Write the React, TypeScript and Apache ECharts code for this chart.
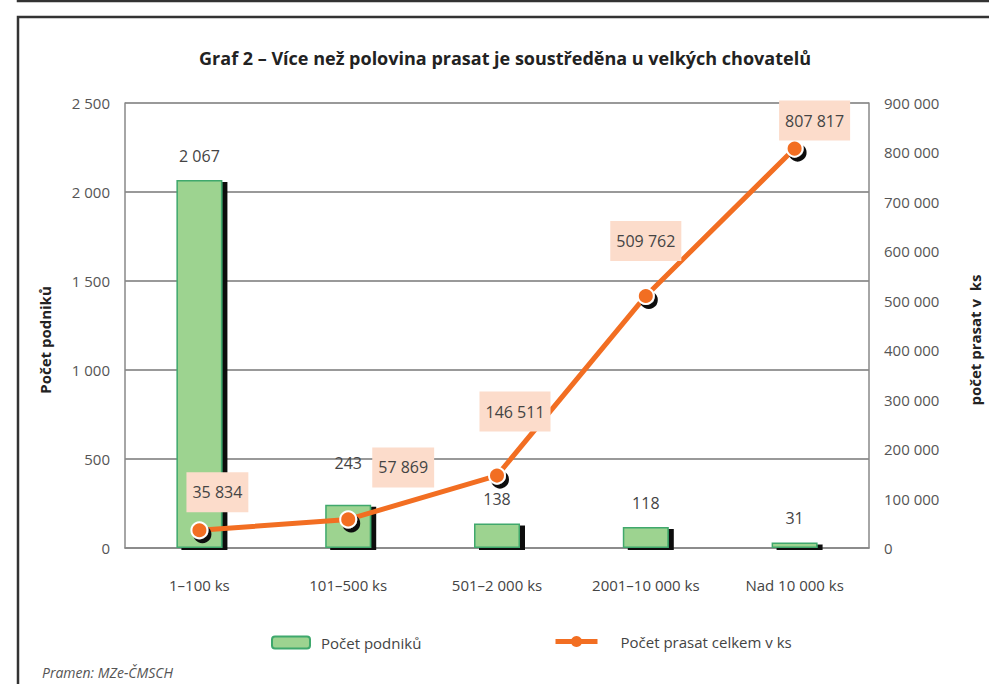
import { useEffect, useRef } from 'react';
import * as echarts from 'echarts';

const categories = ['1–100 ks', '101–500 ks', '501–2 000 ks', '2001–10 000 ks', 'Nad 10 000 ks'];
const podnikuValues = [2067, 243, 138, 118, 31];
const prasatValues = [35834, 57869, 146511, 509762, 807817];
const leftAxisMax = 2500;
const leftAxisStep = 500;
const rightAxisMax = 900000;
const rightAxisStep = 100000;

const titleText = 'Graf 2 – Více než polovina prasat je soustředěna u velkých chovatelů';
const barName = 'Počet podniků';
const lineName = 'Počet prasat celkem v ks';
const leftName = 'Počet podniků';
const rightName = 'počet prasat v  ks';
const sourceText = 'Pramen: MZe-ČMSCH';

// label layout tweaks (pixels)
const lineLabelOffsets = [[18, -9], [55, -23], [18, -35], [0, -26], [20, 1]];
const barLabelOffsets = [[0, 0], [0, -18], [0, 0], [0, 0], [0, 0]];

const fmt = (n: number) => String(n).replace(/\B(?=(\d{3})+(?!\d))/g, ' ');

const FONT = 'Open Sans';

export default function App() {
  const ref = useRef<HTMLDivElement>(null);
  useEffect(() => {
    if (!ref.current) return;
    const chart = echarts.init(ref.current, undefined, { renderer: 'svg' });
    chart.setOption({
      animation: false,
      backgroundColor: '#ffffff',
      textStyle: { fontFamily: FONT },
      title: {
        text: titleText,
        left: 500,
        top: 44,
        textAlign: 'center',
        textStyle: { fontFamily: FONT, fontSize: 18, fontWeight: 'bold', color: '#222' },
      },
      grid: { left: 125, right: 120, top: 103, bottom: 136, containLabel: false },
      legend: [
        {
          data: [barName],
          left: 266,
          top: 630,
          itemWidth: 38,
          itemHeight: 12,
          textStyle: { fontFamily: FONT, fontSize: 15, color: '#444', padding: [0, 0, 0, 6] },
        },
        {
          data: [lineName],
          left: 548,
          top: 629,
          itemWidth: 42,
          itemHeight: 14,
          lineStyle: { width: 5 },
          itemStyle: { borderWidth: 0, shadowOffsetX: 0, shadowOffsetY: 0 },
          textStyle: { fontFamily: FONT, fontSize: 15, color: '#444', padding: [0, 0, 0, 18] },
        },
      ],
      xAxis: {
        type: 'category',
        data: categories,
        axisLine: { lineStyle: { color: '#888', width: 1.5 } },
        axisTick: { show: false },
        axisLabel: { margin: 29, fontFamily: FONT, fontSize: 15, color: '#444' },
      },
      yAxis: [
        {
          type: 'value',
          min: 0,
          max: leftAxisMax,
          interval: leftAxisStep,
          axisLine: { show: true, lineStyle: { color: '#888', width: 1.5 } },
          axisTick: { show: false },
          splitLine: { lineStyle: { color: '#777', width: 1.5 } },
          axisLabel: { margin: 15, fontFamily: FONT, fontSize: 15, color: '#555', formatter: (v: number) => fmt(v) },
        },
        {
          type: 'value',
          min: 0,
          max: rightAxisMax,
          interval: rightAxisStep,
          position: 'right',
          axisLine: { show: true, lineStyle: { color: '#888', width: 1.5 } },
          axisTick: { show: false },
          splitLine: { show: false },
          axisLabel: { margin: 15, fontFamily: FONT, fontSize: 15, color: '#555', formatter: (v: number) => fmt(v) },
        },
      ],
      series: [
        {
          name: barName,
          type: 'bar',
          yAxisIndex: 0,
          barWidth: 46,
          data: podnikuValues.map((v, i) => ({
            value: v,
            label: { offset: barLabelOffsets[i] },
          })),
          itemStyle: {
            color: '#9DD390',
            borderColor: '#3FA86C',
            borderWidth: 1.5,
            shadowColor: '#111',
            shadowBlur: 0,
            shadowOffsetX: 5,
            shadowOffsetY: 2,
          },
          label: {
            show: true,
            position: 'top',
            distance: 16,
            fontFamily: FONT,
            fontSize: 16,
            color: '#444',
            formatter: (p: any) => fmt(p.value),
          },
          z: 2,
        },
        {
          name: lineName,
          type: 'line',
          yAxisIndex: 1,
          data: prasatValues.map((v, i) => ({
            value: v,
            label: { offset: lineLabelOffsets[i] },
          })),
          symbol: 'circle',
          symbolSize: 16,
          lineStyle: { color: '#F26E22', width: 5 },
          itemStyle: {
            color: '#F26E22',
            borderColor: '#ffffff',
            borderWidth: 2,
            shadowColor: '#111',
            shadowBlur: 0,
            shadowOffsetX: 3,
            shadowOffsetY: 4,
          },
          label: {
            show: true,
            position: 'top',
            distance: 0,
            fontFamily: FONT,
            fontSize: 16,
            color: '#444',
            backgroundColor: '#FCDCCB',
            padding: [12, 6, 12, 6],
            formatter: (p: any) => fmt(p.value),
          },
          z: 5,
        },
      ],
      graphic: [
        {
          type: 'rect',
          shape: { x: 18, y: -30, width: 1000, height: 31 },
          style: { fill: 'none', stroke: '#333', lineWidth: 2.5 },
          silent: true,
        },
        {
          type: 'rect',
          shape: { x: 18, y: 17, width: 1000, height: 720 },
          style: { fill: 'none', stroke: '#333', lineWidth: 2.5 },
          silent: true,
        },
        {
          type: 'text',
          x: 45,
          y: 340,
          rotation: Math.PI / 2,
          style: {
            text: leftName,
            fontFamily: FONT,
            fontSize: 15,
            fontWeight: 'bold',
            fill: '#222',
            align: 'center',
            verticalAlign: 'middle',
          },
        },
        {
          type: 'text',
          x: 975,
          y: 340,
          rotation: Math.PI / 2,
          style: {
            text: rightName,
            fontFamily: FONT,
            fontSize: 15,
            fontWeight: 'bold',
            fill: '#222',
            align: 'center',
            verticalAlign: 'middle',
          },
        },
        {
          type: 'text',
          x: 42,
          y: 665,
          style: {
            text: sourceText,
            fontFamily: FONT,
            fontSize: 14,
            fontStyle: 'italic',
            fill: '#555',
            align: 'left',
            verticalAlign: 'top',
          },
        },
      ],
    });
    return () => chart.dispose();
  }, []);
  return (
    <div
      ref={ref}
      style={{ position: 'fixed', left: 0, top: 0, width: 989, height: 684 }}
    />
  );
}
